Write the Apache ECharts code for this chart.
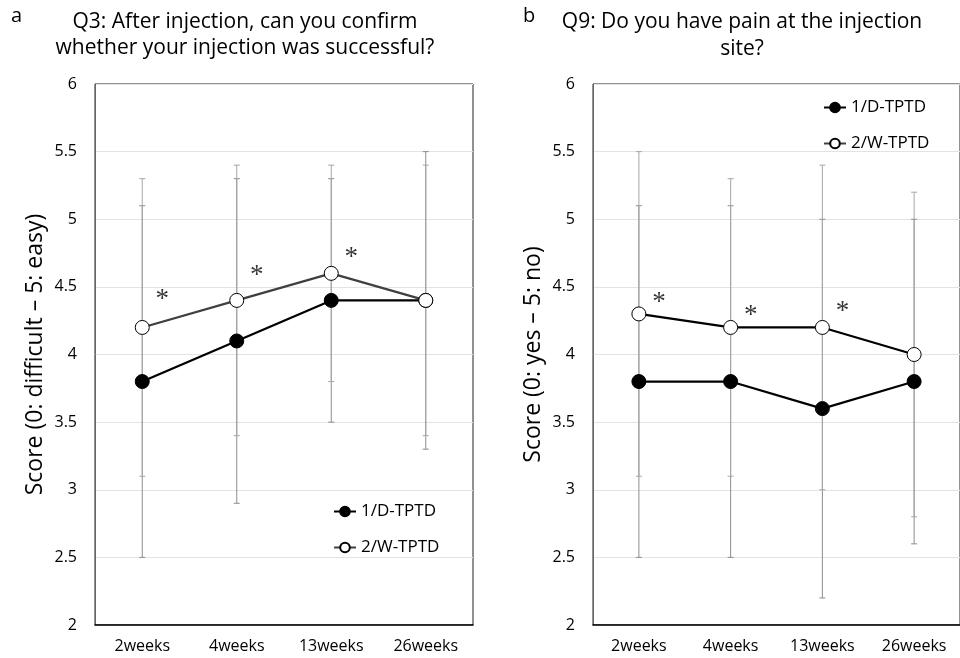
<!DOCTYPE html>
<html>
<head>
<meta charset="utf-8">
<title>Q3 / Q9 scores</title>
<script src="https://cdn.jsdelivr.net/npm/echarts@6/dist/echarts.min.js"></script>
<style>
  html, body { margin: 0; padding: 0; background: #fff; }
  #chart { width: 960px; height: 658px; }
</style>
</head>
<body>
<div id="chart"></div>
<script>
// categories (x axis)
const categories = ['2weeks', '4weeks', '13weeks', '26weeks'];
const seriesNames = ['1/D-TPTD', '2/W-TPTD'];

// panel a - Q3
const q3Dtptd = [3.8, 4.1, 4.4, 4.4];
const q3DtptdSd = [1.3, 1.2, 0.9, 1.1];
const q3Wtptd = [4.2, 4.4, 4.6, 4.4];
const q3WtptdSd = [1.1, 1.0, 0.8, 1.0];
const q3Stars = [4.44, 4.62, 4.75, null];

// panel b - Q9
const q9Dtptd = [3.8, 3.8, 3.6, 3.8];
const q9DtptdSd = [1.3, 1.3, 1.4, 1.2];
const q9Wtptd = [4.3, 4.2, 4.2, 4.0];
const q9WtptdSd = [1.2, 1.1, 1.2, 1.2];
const q9Stars = [4.42, 4.32, 4.35, null];

const FONT = '"Open Sans", "Noto Sans", sans-serif';

const chart = echarts.init(document.getElementById('chart'));

// mean +/- sd -> [index, low, high]
function errData(mean, sd) {
  return mean.map((m, i) => [i, +(m - sd[i]).toFixed(2), +(m + sd[i]).toFixed(2)]);
}

function errSeries(mean, sd, gi, color) {
  return {
    type: 'custom',
    xAxisIndex: gi, yAxisIndex: gi,
    z: 1,
    silent: true,
    renderItem: function (params, api) {
      const lo = api.coord([api.value(0), api.value(1)]);
      const hi = api.coord([api.value(0), api.value(2)]);
      const w = 3;
      const st = { stroke: color, lineWidth: 1 };
      return {
        type: 'group',
        children: [
          { type: 'line', shape: { x1: lo[0], y1: lo[1], x2: hi[0], y2: hi[1] }, style: st },
          { type: 'line', shape: { x1: lo[0] - w, y1: lo[1], x2: lo[0] + w, y2: lo[1] }, style: st },
          { type: 'line', shape: { x1: hi[0] - w, y1: hi[1], x2: hi[0] + w, y2: hi[1] }, style: st }
        ]
      };
    },
    data: errData(mean, sd)
  };
}

function lineSeries(name, data, gi, filled, lineColor) {
  return {
    name: name,
    type: 'line',
    xAxisIndex: gi, yAxisIndex: gi,
    z: 3,
    data: data,
    symbol: 'circle',
    symbolSize: 14,
    lineStyle: { color: lineColor, width: 2.2 },
    itemStyle: {
      color: filled ? '#000' : '#fff',
      borderColor: '#000',
      borderWidth: 1
    },
    emphasis: { disabled: true }
  };
}

function starSeries(vals, gi) {
  return {
    type: 'scatter',
    xAxisIndex: gi, yAxisIndex: gi,
    z: 4,
    symbolSize: 0,
    silent: true,
    data: vals.map((v, i) => v == null ? null : [i, v]).filter(d => d),
    label: {
      show: true,
      formatter: '*',
      position: 'inside',
      offset: [20, 5],
      fontFamily: '"Liberation Serif", "DejaVu Serif", serif',
      fontSize: 27,
      color: '#000'
    }
  };
}

function yAxis(gi, name) {
  return {
    gridIndex: gi,
    type: 'value',
    min: 2, max: 6, interval: 0.5,
    name: name,
    nameLocation: 'middle',
    nameGap: 48,
    nameTextStyle: { fontFamily: FONT, fontSize: 23, color: '#000' },
    axisLine: { show: true, lineStyle: { color: '#666', width: 1 } },
    axisTick: { show: false },
    axisLabel: { fontFamily: FONT, fontSize: 16, color: '#000', margin: 18 },
    splitLine: { lineStyle: { color: '#e3e3e3', width: 1 } }
  };
}

function xAxis(gi) {
  return {
    gridIndex: gi,
    type: 'category',
    data: categories,
    boundaryGap: true,
    axisLine: { lineStyle: { color: '#000', width: 1.5 } },
    axisTick: { show: false },
    axisLabel: { fontFamily: FONT, fontSize: 16, color: '#000', margin: 13 }
  };
}

const legendText = { fontFamily: FONT, fontSize: 17, color: '#000' };
const titleFont = '21px ' + FONT;

chart.setOption({
  backgroundColor: '#fff',
  animation: false,
  grid: [
    { left: 95, top: 84, width: 378, height: 541, show: true, borderColor: '#222', borderWidth: 1, backgroundColor: '#fff' },
    { left: 593, top: 84, width: 378, height: 541, show: true, borderColor: '#222', borderWidth: 1, backgroundColor: '#fff' }
  ],
  xAxis: [xAxis(0), xAxis(1)],
  yAxis: [
    yAxis(0, 'Score (0: difficult \u2013 5: easy)'),
    yAxis(1, 'Score (0: yes \u2013 5: no)')
  ],
  legend: [
    {
      left: 333, top: 503, orient: 'vertical', itemGap: 19, padding: 0,
      itemWidth: 22, itemHeight: 12, textStyle: legendText,
      data: seriesNames
    },
    {
      left: 823, top: 99, orient: 'vertical', itemGap: 19, padding: 0,
      itemWidth: 22, itemHeight: 12, textStyle: legendText,
      data: seriesNames
    }
  ],
  graphic: [
    { type: 'text', left: 11, top: 6, style: { text: 'a', font: '20px ' + FONT, fill: '#000' } },
    { type: 'text', left: 523, top: 6, style: { text: 'b', font: '20px ' + FONT, fill: '#000' } },
    { type: 'text', x: 245, y: 22, style: { text: 'Q3: After injection, can you confirm', font: titleFont, fill: '#000', align: 'center', verticalAlign: 'middle' } },
    { type: 'text', x: 245, y: 48, style: { text: 'whether your injection was successful?', font: titleFont, fill: '#000', align: 'center', verticalAlign: 'middle' } },
    { type: 'text', x: 742, y: 22, style: { text: 'Q9: Do you have pain at the injection', font: titleFont, fill: '#000', align: 'center', verticalAlign: 'middle' } },
    { type: 'text', x: 742, y: 49, style: { text: 'site?', font: titleFont, fill: '#000', align: 'center', verticalAlign: 'middle' } }
  ],
  series: [
    errSeries(q3Dtptd, q3DtptdSd, 0, '#8c8c8c'),
    errSeries(q3Wtptd, q3WtptdSd, 0, '#a6a6a6'),
    lineSeries(seriesNames[0], q3Dtptd, 0, true, '#000'),
    lineSeries(seriesNames[1], q3Wtptd, 0, false, '#404040'),
    starSeries(q3Stars, 0),

    errSeries(q9Dtptd, q9DtptdSd, 1, '#8c8c8c'),
    errSeries(q9Wtptd, q9WtptdSd, 1, '#a6a6a6'),
    lineSeries(seriesNames[0], q9Dtptd, 1, true, '#000'),
    lineSeries(seriesNames[1], q9Wtptd, 1, false, '#000'),
    starSeries(q9Stars, 1)
  ]
});
</script>
</body>
</html>
